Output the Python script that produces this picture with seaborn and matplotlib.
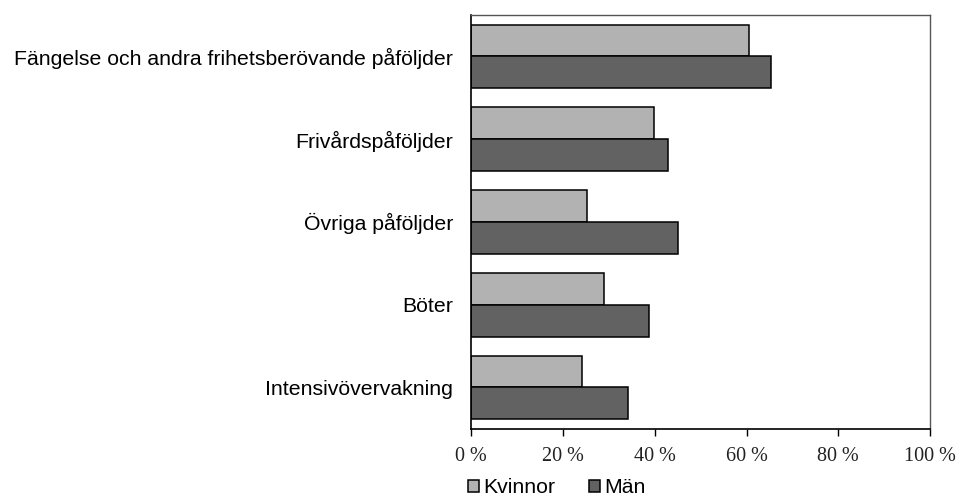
import matplotlib
matplotlib.use("Agg")
import matplotlib.pyplot as plt
import seaborn as sns
import pandas as pd

# Data (percent)
kategorier = [
    "Fängelse och andra frihetsberövande påföljder",
    "Frivårdspåföljder",
    "Övriga påföljder",
    "Böter",
    "Intensivövervakning",
]
kvinnor = [60.6, 39.8, 25.2, 28.9, 24.2]
man = [65.3, 43.0, 45.0, 38.8, 34.3]
kon = ["Kvinnor", "Män"]
farger = ["#b2b2b2", "#626262"]
xticks = [0, 20, 40, 60, 80, 100]

df = pd.DataFrame({
    "Påföljd": kategorier * 2,
    "Andel": kvinnor + man,
    "Kön": [kon[0]] * len(kategorier) + [kon[1]] * len(kategorier),
})

sns.set_style("white")
plt.rcParams["font.family"] = ["Liberation Sans", "DejaVu Sans"]
plt.rcParams["text.color"] = "black"
plt.rcParams["xtick.color"] = "black"
plt.rcParams["ytick.color"] = "black"

fig = plt.figure(figsize=(9.71, 5.01), dpi=100)
ax = fig.add_axes([0.485, 0.144, 0.473, 0.826])

sns.barplot(
    data=df, x="Andel", y="Påföljd", hue="Kön",
    order=kategorier, hue_order=kon, palette=farger,
    orient="h", width=0.77, edgecolor="black", linewidth=1.1,
    saturation=1, ax=ax, legend=True,
)

ax.set_xlim(0, 100)
ax.set_xticks(xticks)
ax.set_xticklabels([f"{t} %" for t in xticks], family=["Liberation Serif", "DejaVu Serif"],
                   fontsize=14.5, color="#222222")
ax.tick_params(axis="x", direction="out", length=5, width=1, color="black", pad=8, bottom=True)
ax.tick_params(axis="y", length=0, pad=13, labelsize=15.3, labelcolor="black")
ax.set_xlabel("")
ax.set_ylabel("")

for side in ["left", "bottom"]:
    ax.spines[side].set_color("black")
    ax.spines[side].set_linewidth(1.2)
for side in ["top", "right"]:
    ax.spines[side].set_color("#555555")
    ax.spines[side].set_linewidth(1.0)

ax.legend_.remove()
handles, labels = ax.get_legend_handles_labels()
fig.legend(
    handles, labels, loc="center left", bbox_to_anchor=(0.482, 0.026), ncol=2,
    frameon=False, fontsize=15.3, handlelength=0.5, handleheight=0.5,
    handletextpad=0.2, columnspacing=1.6, borderaxespad=0, borderpad=0,
)

fig.savefig("out.png", dpi=100, facecolor="white")
